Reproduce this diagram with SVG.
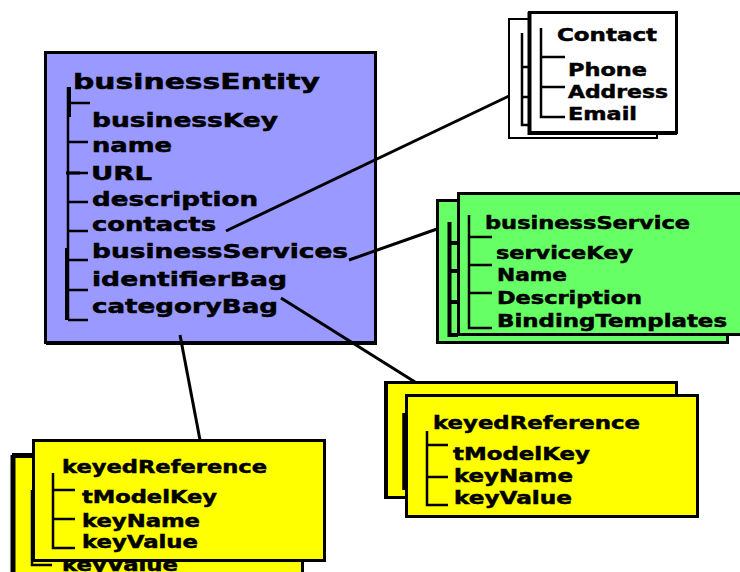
<svg xmlns="http://www.w3.org/2000/svg" width="740" height="572" viewBox="0 0 740 572">
  <style>
    text { font-family: "DejaVu Sans", Verdana, "Liberation Sans", sans-serif; font-weight: bold; fill: #000; stroke: #000; stroke-width: 0.5; }
    .t21 { font-size: 21px; }
    .t19 { font-size: 19px; }
    .t18 { font-size: 18px; }
    .t17 { font-size: 17.5px; }
    .box { stroke: #000; stroke-width: 3; }
    .blue { fill: #9999ff; }
    .green { fill: #66ff66; }
    .yellow { fill: #ffff00; }
    .white { fill: #ffffff; }
    .tree { stroke: #000; stroke-width: 2.5; fill: none; }
    .link { stroke: #000; stroke-width: 3; fill: none; }
  </style>

  <!-- businessEntity -->
  <g id="businessEntity">
    <rect class="box blue" x="45.5" y="52.5" width="330" height="290"/>
    <path d="M376 53 V344 H46" stroke="#000" stroke-width="2" fill="none"/>
    <path class="tree" d="M68 87 V320 M68 103 H90 M68 142 H88 M68 173 H88 M68 202 H88 M68 231 H88 M68 260 H88 M68 290 H88 M68 320 H88"/>
    <path d="M69.5 87 V117 M66.5 248 V320 M66 173 H80" stroke="#000" stroke-width="3" fill="none"/>
    <text class="t21" x="73" y="89" textLength="247" lengthAdjust="spacingAndGlyphs">businessEntity</text>
    <text class="t19" x="92" y="127" textLength="186" lengthAdjust="spacingAndGlyphs">businessKey</text>
    <text class="t19" x="92" y="152" textLength="80" lengthAdjust="spacingAndGlyphs">name</text>
    <text class="t19" x="91" y="180" textLength="61" lengthAdjust="spacingAndGlyphs">URL</text>
    <text class="t19" x="92" y="206" textLength="166" lengthAdjust="spacingAndGlyphs">description</text>
    <text class="t19" x="92" y="231" textLength="124" lengthAdjust="spacingAndGlyphs">contacts</text>
    <text class="t19" x="92" y="258" textLength="256" lengthAdjust="spacingAndGlyphs">businessServices</text>
    <text class="t19" x="92" y="286" textLength="195" lengthAdjust="spacingAndGlyphs">identifierBag</text>
    <text class="t19" x="92" y="313" textLength="186" lengthAdjust="spacingAndGlyphs">categoryBag</text>
  </g>

  <!-- Contact (stacked) -->
  <g id="contact">
    <rect x="509" y="19" width="148" height="119" class="white" stroke="#000" stroke-width="2"/>
    <path class="tree" d="M522 33 V125 H530 M522 67 H530 M522 97 H530"/>
    <rect class="box white" x="529.5" y="12.5" width="147" height="120"/>
    <path d="M529.5 12 V133 H677" stroke="#000" stroke-width="4" fill="none"/>
    <path class="tree" d="M541 28 V117 H565 M541 57 H565 M541 87 H565"/>
    <text class="t18" x="557" y="41" textLength="100" lengthAdjust="spacingAndGlyphs">Contact</text>
    <text class="t18" x="568" y="76" textLength="79" lengthAdjust="spacingAndGlyphs">Phone</text>
    <text class="t18" x="568" y="98" textLength="100" lengthAdjust="spacingAndGlyphs">Address</text>
    <text class="t18" x="568" y="120" textLength="69" lengthAdjust="spacingAndGlyphs">Email</text>
  </g>

  <!-- businessService (stacked) -->
  <g id="businessService">
    <rect class="box green" x="437.5" y="200.5" width="290" height="142"/>
    <path d="M449.5 222 V335 H458 M449 243 H458 M449 271 H458 M449 302 H458" stroke="#000" stroke-width="4" fill="none"/>
    <rect class="box green" x="458.5" y="193.5" width="300" height="141"/>
    <path class="tree" d="M469 215 V328 H492 M469 237 H492 M469 265 H492 M469 293 H492"/>
    <text class="t17" x="485" y="229" textLength="205" lengthAdjust="spacingAndGlyphs">businessService</text>
    <text class="t17" x="496" y="259" textLength="137" lengthAdjust="spacingAndGlyphs">serviceKey</text>
    <text class="t17" x="497" y="281" textLength="70" lengthAdjust="spacingAndGlyphs">Name</text>
    <text class="t17" x="497" y="304" textLength="145" lengthAdjust="spacingAndGlyphs">Description</text>
    <text class="t17" x="497" y="327" textLength="230" lengthAdjust="spacingAndGlyphs">BindingTemplates</text>
  </g>

  <!-- keyedReference, right (stacked) -->
  <g id="keyedReferenceRight">
    <rect class="box yellow" x="385.5" y="382.5" width="291" height="115"/>
    <path d="M386 382 V498" stroke="#000" stroke-width="4" fill="none"/>
    <path d="M404 413 V490" stroke="#000" stroke-width="3.5" fill="none"/>
    <rect class="box yellow" x="406.5" y="395.5" width="291" height="121"/>
    <path class="tree" d="M427 431 V505 H448 M427 445 H448 M427 477 H448"/>
    <text class="t17" x="433" y="429" textLength="207" lengthAdjust="spacingAndGlyphs">keyedReference</text>
    <text class="t17" x="453" y="460" textLength="137" lengthAdjust="spacingAndGlyphs">tModelKey</text>
    <text class="t17" x="454" y="482" textLength="119" lengthAdjust="spacingAndGlyphs">keyName</text>
    <text class="t17" x="454" y="504" textLength="118" lengthAdjust="spacingAndGlyphs">keyValue</text>
  </g>

  <!-- keyedReference, left (stacked; the rear copy runs past the bottom edge) -->
  <g id="keyedReferenceLeft">
    <rect class="box yellow" x="13.5" y="455.5" width="289" height="130"/>
    <path d="M13 455 V580 M12 455.5 H40" stroke="#000" stroke-width="5" fill="none"/>
    <path class="tree" d="M32 490 V565 H52"/>
    <text class="t17" x="62" y="571" textLength="116" lengthAdjust="spacingAndGlyphs">keyValue</text>
    <rect class="box yellow" x="33.5" y="440.5" width="291" height="120"/>
    <path class="tree" d="M53 473 V548 H75 M53 490 H75 M53 519 H75"/>
    <text class="t17" x="62" y="473" textLength="205" lengthAdjust="spacingAndGlyphs">keyedReference</text>
    <text class="t17" x="82" y="503" textLength="135" lengthAdjust="spacingAndGlyphs">tModelKey</text>
    <text class="t17" x="82" y="527" textLength="118" lengthAdjust="spacingAndGlyphs">keyName</text>
    <text class="t17" x="82" y="548" textLength="116" lengthAdjust="spacingAndGlyphs">keyValue</text>
  </g>

  <!-- connectors -->
  <g id="connectors">
    <path class="link" d="M226 231 L509 96"/>
    <path class="link" d="M349 260 L437 229"/>
    <path class="link" d="M281 298 L415 382"/>
    <path class="link" d="M180 335 L200 440"/>
  </g>
</svg>
